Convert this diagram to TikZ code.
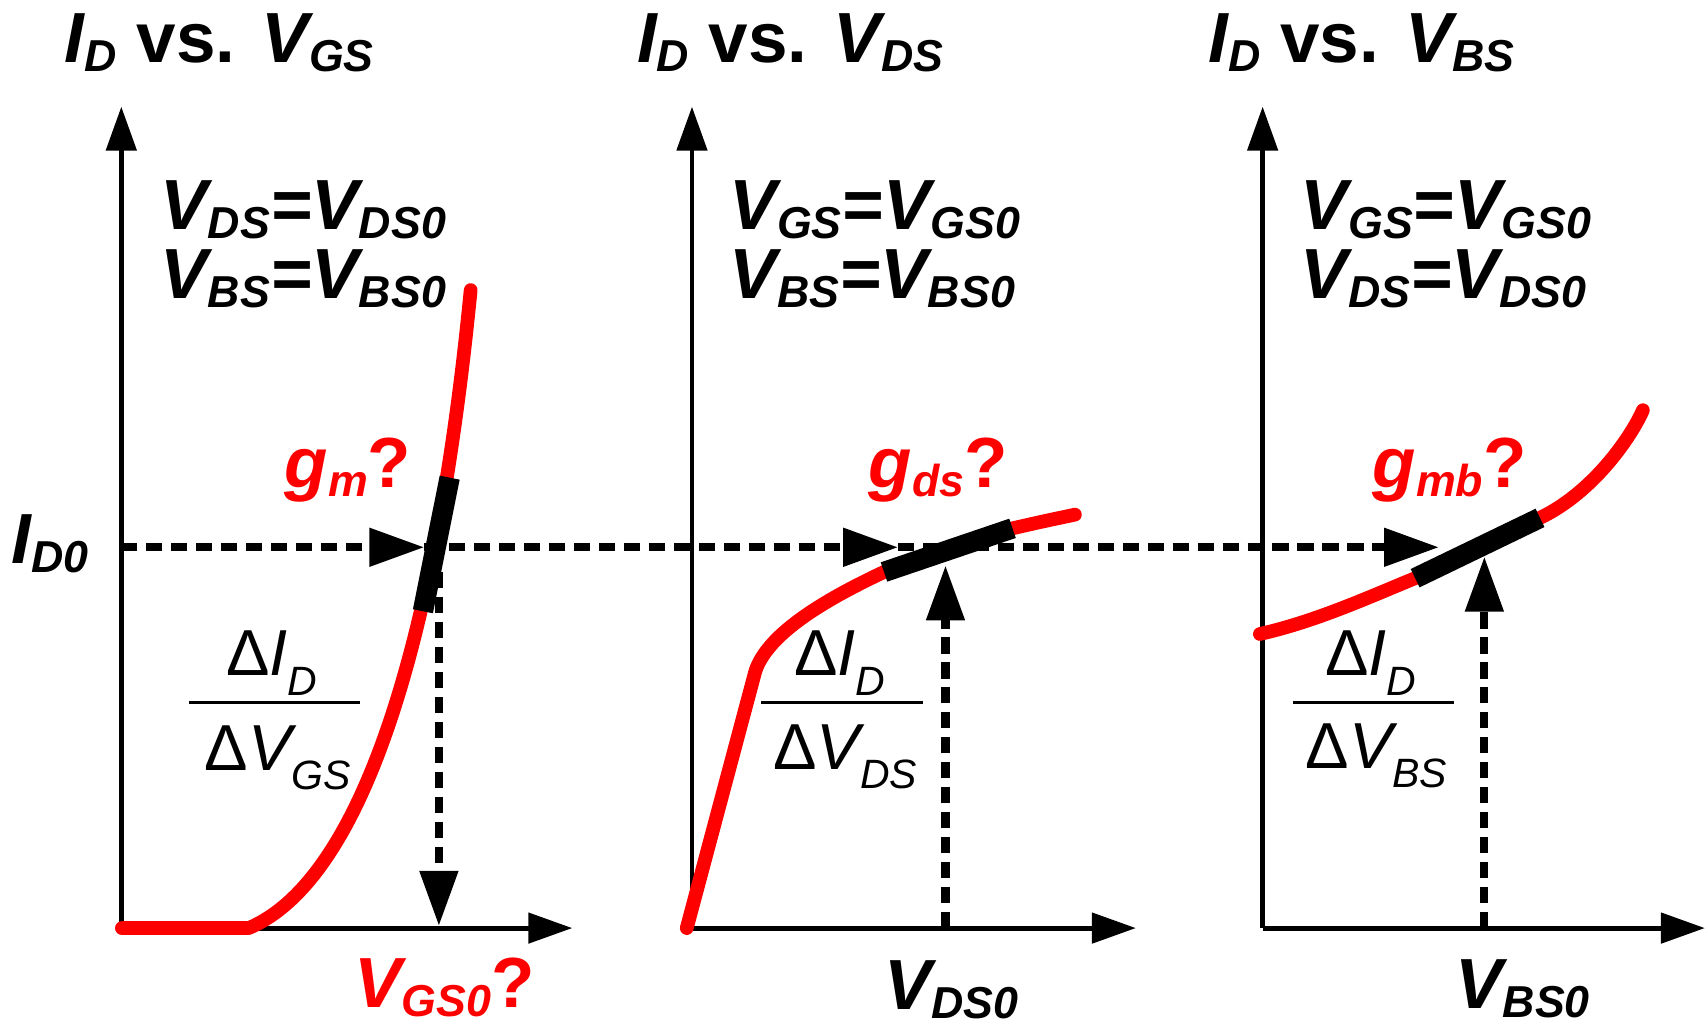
\documentclass[tikz,border=0pt]{standalone}
\usepackage{fontspec}
\setmainfont{Liberation Sans}
\usepackage{graphicx}
\usetikzlibrary{arrows.meta,positioning}
\definecolor{curvered}{HTML}{FF0000}
\newcommand{\sbs}[1]{\raisebox{-0.13em}{\scalebox{0.63}{#1}}}
\newcommand{\fsbs}[1]{\raisebox{-0.3em}{\scalebox{0.63}{#1}}}

\begin{document}
\begin{tikzpicture}[x=0.01088cm,y=-0.01088cm,
    axis/.style={line width=1.4pt,-{Triangle[length=4.4mm,width=3mm]}},
    probe/.style={line width=2.3pt,dash pattern=on 4.6pt off 2.5pt,
                  -{Triangle[length=5.5mm,width=3.7mm]}},
    curve/.style={curvered,line width=3.9pt,line cap=round,line join=round},
    tangent/.style={line width=5.8pt},
    lbl/.style={inner sep=0pt,anchor=base west,
                font=\bfseries\fontsize{20.2}{24}\selectfont},
    qlbl/.style={lbl,text=curvered},
    frac/.style={inner sep=0pt,anchor=base,font=\itshape\fontsize{18.5}{22}\selectfont},
    fracbar/.style={line width=0.8pt}]
  \useasboundingbox (0,0) rectangle (1568,942);

  % axes
  \coordinate (o1) at (111.5,853);  \coordinate (ya1) at (111.5,98);  \coordinate (xa1) at (526,853);
  \coordinate (o2) at (636,853);    \coordinate (ya2) at (636,98);    \coordinate (xa2) at (1044,853);
  \coordinate (o3) at (1160.5,853); \coordinate (ya3) at (1160.5,98); \coordinate (xa3) at (1567,853);
  \draw[axis] (o1) -- (ya1);  \draw[axis] (o1) -- (xa1);
  \draw[axis] (o2) -- (ya2);  \draw[axis] (o2) -- (xa2);
  \draw[axis] (o3) -- (ya3);  \draw[axis] (o3) -- (xa3);

  % I-V curves
  \draw[curve] (112,853) -- (228.6,853) .. controls (330,810) and (400,600) .. (432.6,266.6);
  \draw[curve] (631.2,853) -- (694.3,616.7) .. controls (705,585) and (750,555) .. (812.5,525.7)
               -- (930.6,485.6) .. controls (955,480) .. (988,473);
  \draw[curve] (1158,582.7) .. controls (1210,571) and (1260,548) .. (1300.7,531.4)
               -- (1415.4,476) .. controls (1465.4,452) and (1500,400) .. (1510,377);

  % operating point
  \coordinate (d0) at (111.5,503);
  \coordinate (h1) at (390,503);
  \coordinate (h2) at (825.5,503);
  \coordinate (h3) at (1322.6,503);
  \draw[probe] (d0) -- (h1);
  \draw[probe] (h1) -- (h2);
  \draw[probe] (h2) -- (h3);
  \coordinate (v1a) at (403.4,503);  \coordinate (v1b) at (403.4,851);
  \coordinate (v2a) at (869,853);    \coordinate (v2b) at (869,519.7);
  \coordinate (v3a) at (1364.3,853); \coordinate (v3b) at (1364.3,511.6);
  \draw[probe] (v1a) -- (v1b);
  \draw[probe] (v2a) -- (v2b);
  \draw[probe] (v3a) -- (v3b);

  % tangents
  \coordinate (t1a) at (388.7,561.8);  \coordinate (t1b) at (413.3,439);
  \coordinate (t2a) at (812.5,525.7);  \coordinate (t2b) at (930.6,485.6);
  \coordinate (t3a) at (1300.7,531.4); \coordinate (t3b) at (1415.4,476);
  \draw[tangent] (t1a) -- (t1b);
  \draw[tangent] (t2a) -- (t2b);
  \draw[tangent] (t3a) -- (t3b);

  % slopes
  \coordinate (b1l) at (174,645.3);    \coordinate (b1r) at (330.6,645.3);
  \coordinate (b2l) at (699.8,645.3);  \coordinate (b2r) at (848.5,645.3);
  \coordinate (b3l) at (1188.6,645.3); \coordinate (b3r) at (1336.6,645.3);
  \draw[fracbar] (b1l) -- (b1r);
  \draw[fracbar] (b2l) -- (b2r);
  \draw[fracbar] (b3l) -- (b3r);
  \node[frac] (num1) at (250,621) {{\upshape Δ}I\fsbs{D}};
  \node[frac] (den1) at (255.5,708) {{\upshape Δ}V\fsbs{GS}};
  \node[frac] (num2) at (772,621) {{\upshape Δ}I\fsbs{D}};
  \node[frac] (den2) at (777,707) {{\upshape Δ}V\fsbs{DS}};
  \node[frac] (num3) at (1260,621) {{\upshape Δ}I\fsbs{D}};
  \node[frac] (den3) at (1265,706) {{\upshape Δ}V\fsbs{BS}};

  % labels
  \node[lbl] (ttl1) at (59,57.3)    {\textit{I\sbs{D}} vs. \textit{V\sbs{GS}}};
  \node[lbl] (ttl2) at (585,57.3)   {\textit{I\sbs{D}} vs. \textit{V\sbs{DS}}};
  \node[lbl] (ttl3) at (1110,57.3)  {\textit{I\sbs{D}} vs. \textit{V\sbs{BS}}};
  \node[lbl] (c1a) at (147,210.8)   {\textit{V\sbs{DS}=V\sbs{DS0}}};
  \node[lbl] (c1b) at (147,274.5)   {\textit{V\sbs{BS}=V\sbs{BS0}}};
  \node[lbl] (c2a) at (670,210.8)   {\textit{V\sbs{GS}=V\sbs{GS0}}};
  \node[lbl] (c2b) at (670,274.5)   {\textit{V\sbs{BS}=V\sbs{BS0}}};
  \node[lbl] (c3a) at (1195,210.8)  {\textit{V\sbs{GS}=V\sbs{GS0}}};
  \node[lbl] (c3b) at (1195,274.5)  {\textit{V\sbs{DS}=V\sbs{DS0}}};
  \node[lbl] (id0) at (10,517.8)    {\textit{I\sbs{D0}}};
  \node[qlbl] (gm)  at (261,448)    {\textit{g\sbs{m}}?};
  \node[qlbl] (gds) at (798,448)    {\textit{g\sbs{ds}}?};
  \node[qlbl] (gmb) at (1261,448)   {\textit{g\sbs{mb}}?};
  \node[qlbl] (vgs0) at (325,926)   {\textit{V\sbs{GS0}}?};
  \node[lbl] (vds0) at (812,928)    {\textit{V\sbs{DS0}}};
  \node[lbl] (vbs0) at (1337,927)   {\textit{V\sbs{BS0}}};
\end{tikzpicture}
\end{document}
